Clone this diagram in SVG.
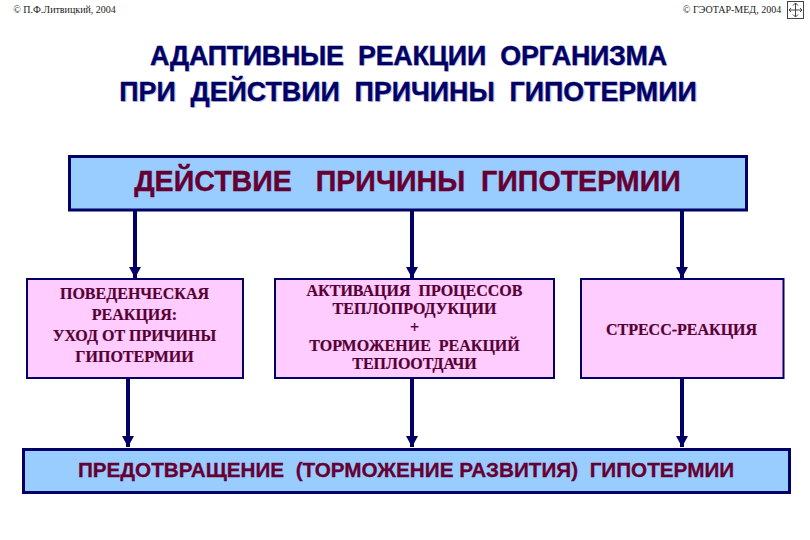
<svg xmlns="http://www.w3.org/2000/svg" width="810" height="540" viewBox="0 0 810 540">
<style>
text{white-space:pre;text-anchor:middle}
.ttl{font:bold 26.800px "Liberation Sans",Arial,sans-serif;fill:#000066;stroke:#000066;stroke-width:.4}
.sh{fill:#d0d0e4;stroke:none}
.big{font:bold 28.600px "Liberation Sans",Arial,sans-serif;fill:#660033;stroke:#660033;stroke-width:.4}
.low{font:bold 20.700px "Liberation Sans",Arial,sans-serif;fill:#660033;stroke:#660033;stroke-width:.3}
.ser{font:bold 16px "Liberation Serif","Times New Roman",serif;fill:#550033;stroke:#550033;stroke-width:.2}
.cr{font:10px "Liberation Serif","Times New Roman",serif;fill:#222}
.blue{fill:#99ccff;stroke:#000066;stroke-width:3}
.pink{fill:#ffccff;stroke:#000066;stroke-width:2}
.con{stroke:#000066;stroke-width:4;fill:none;marker-end:url(#ah)}
</style>
<defs>
<marker id="ah" markerUnits="userSpaceOnUse" markerWidth="12" markerHeight="12" refX="11" refY="6" orient="auto"><path d="M0,0 L11,6 L0,12 Z" fill="#000066"/></marker>
</defs>
<rect width="810" height="540" fill="#fff"/>
<g id="credits">
<text class="cr" x="64.500" y="13">© П.Ф.Литвицкий, 2004</text>
<text class="cr" x="732" y="13">© ГЭОТАР-МЕД, 2004</text>
</g>
<g id="nav-icon" fill="none" stroke="#444" stroke-width="1">
<rect x="787.500" y="1.500" width="16" height="17"/>
<path d="M795.500,3 V17 M789,10 H802 M793,5.500 L795.500,3 L798,5.500 M793,14.500 L795.500,17 L798,14.500 M791,8 L789,10 L791,12 M800,8 L802,10 L800,12"/>
</g>
<g id="title">
<text class="ttl sh" x="409.500" y="66" textLength="517">АДАПТИВНЫЕ  РЕАКЦИИ  ОРГАНИЗМА</text>
<text class="ttl sh" x="409.500" y="102">ПРИ  ДЕЙСТВИИ  ПРИЧИНЫ  ГИПОТЕРМИИ</text>
<text class="ttl" x="408.500" y="64.500" textLength="517">АДАПТИВНЫЕ  РЕАКЦИИ  ОРГАНИЗМА</text>
<text class="ttl" x="408" y="100.500">ПРИ  ДЕЙСТВИИ  ПРИЧИНЫ  ГИПОТЕРМИИ</text>
</g>
<g id="connectors">
<path class="con" d="M135,211 V278"/>
<path class="con" d="M412,211 V278"/>
<path class="con" d="M682,211 V278"/>
<path class="con" d="M128,379 V447"/>
<path class="con" d="M412,379 V447"/>
<path class="con" d="M682,379 V447"/>
</g>
<g id="cause">
<rect class="blue" x="69.500" y="156.500" width="677" height="53.500"/>
<text class="big" x="407.500" y="190.500">ДЕЙСТВИЕ   ПРИЧИНЫ  ГИПОТЕРМИИ</text>
</g>
<g id="behaviour">
<rect class="pink" x="27" y="279" width="216" height="99"/>
<text class="ser" x="134.500" y="299">ПОВЕДЕНЧЕСКАЯ</text>
<text class="ser" x="134.500" y="320">РЕАКЦИЯ:</text>
<text class="ser" x="134.500" y="341">УХОД ОТ ПРИЧИНЫ</text>
<text class="ser" x="134.500" y="362">ГИПОТЕРМИИ</text>
</g>
<g id="activation">
<rect class="pink" x="275" y="279" width="279" height="99"/>
<text class="ser" x="414.500" y="296">АКТИВАЦИЯ  ПРОЦЕССОВ</text>
<text class="ser" x="414.500" y="314">ТЕПЛОПРОДУКЦИИ</text>
<text class="ser" x="414.500" y="333">+</text>
<text class="ser" x="414.500" y="351">ТОРМОЖЕНИЕ  РЕАКЦИЙ</text>
<text class="ser" x="414.500" y="369">ТЕПЛООТДАЧИ</text>
</g>
<g id="stress">
<rect class="pink" x="581" y="279" width="202.500" height="99"/>
<text class="ser" x="681.500" y="335">СТРЕСС-РЕАКЦИЯ</text>
</g>
<g id="prevention">
<rect class="blue" x="23.500" y="449.500" width="766" height="43"/>
<text class="low" x="406" y="476.500">ПРЕДОТВРАЩЕНИЕ  (ТОРМОЖЕНИЕ РАЗВИТИЯ)  ГИПОТЕРМИИ</text>
</g>
</svg>
